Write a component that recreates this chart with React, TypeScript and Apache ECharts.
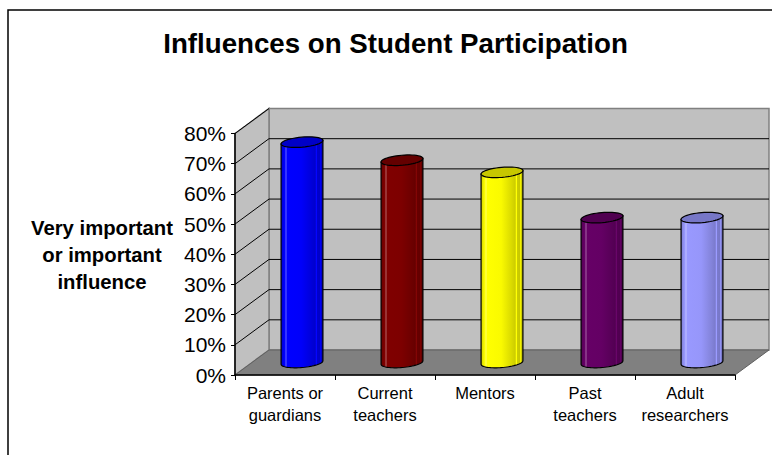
import React, { useEffect, useRef } from "react";
import * as echarts from "echarts";

const titleText = "Influences on Student Participation";
const yAxisTitle = ["Very important", "or important", "influence"];
const categories = ["Parents or\nguardians", "Current\nteachers", "Mentors", "Past\nteachers", "Adult\nresearchers"];
const values = [73, 67, 63, 48, 48];
const gridTicks = [10, 20, 30, 40, 50, 60, 70, 80];
const barColors = ["#0000ff", "#800000", "#ffff00", "#660066", "#9999ff"];

const FONT = '"Liberation Sans", Arial, sans-serif';
const DX = 34;
const DY = -25;

function shade(hex: string, f: number) {
  const n = parseInt(hex.slice(1), 16);
  const ch = (s: number) => {
    const c = (n >> s) & 255;
    const r = f <= 1 ? c * f : c + (255 - c) * (f - 1);
    return Math.round(r).toString(16).padStart(2, "0");
  };
  return "#" + ch(16) + ch(8) + ch(0);
}

function bodyFill(color: string) {
  const stops: [number, number][] = [
    [0, 0.82], [0.09, 1], [0.1, 1.2], [0.13, 1.2], [0.14, 1],
    [0.48, 0.98], [0.72, 0.86], [0.82, 0.8], [0.83, 1.02], [0.86, 1.02], [0.87, 0.8],
    [0.93, 0.78], [0.94, 0.95], [0.96, 0.95], [0.97, 0.7], [1, 0.7],
  ];
  return new echarts.graphic.LinearGradient(
    0, 0, 1, 0,
    stops.map(([offset, f]) => ({ offset, color: shade(color, f) }))
  );
}

const TILT = (-5 * Math.PI) / 180;
function ellipsePoint(cx: number, cy: number, rx: number, ry: number, t: number) {
  const x = rx * Math.cos(t);
  const y = ry * Math.sin(t);
  return [cx + x * Math.cos(TILT) - y * Math.sin(TILT), cy + x * Math.sin(TILT) + y * Math.cos(TILT)];
}
function arc(cx: number, cy: number, rx: number, ry: number, from: number, to: number, steps = 32) {
  const pts: number[][] = [];
  for (let i = 0; i <= steps; i++) {
    pts.push(ellipsePoint(cx, cy, rx, ry, from + ((to - from) * i) / steps));
  }
  return pts;
}

function renderWalls(params: any) {
  const c = params.coordSys;
  const left = c.x;
  const right = c.x + c.width;
  const top = c.y;
  const bottom = c.y + c.height;
  const edge = { stroke: "#808080", lineWidth: 1.5 };
  return {
    type: "group",
    children: [
      {
        type: "polygon",
        shape: { points: [[left + DX, top + DY], [right + DX, top + DY], [right + DX, bottom + DY], [left + DX, bottom + DY]] },
        style: { fill: "#c0c0c0", ...edge },
      },
      {
        type: "polygon",
        shape: { points: [[left, top], [left + DX, top + DY], [left + DX, bottom + DY], [left, bottom]] },
        style: { fill: "#c0c0c0", ...edge },
      },
      {
        type: "polygon",
        shape: { points: [[left, bottom], [left + DX, bottom + DY], [right + DX, bottom + DY], [right, bottom]] },
        style: { fill: "#808080", stroke: "#606060", lineWidth: 1 },
      },
    ],
  };
}

function renderGrid(params: any, api: any) {
  const c = params.coordSys;
  const y = api.coord([0, api.value(0)])[1];
  const x = c.x;
  const lines: any[] = [
    { type: "line", shape: { x1: x, y1: y, x2: x + DX, y2: y + DY }, style: { stroke: "#000", lineWidth: 1 } },
  ];
  if (api.value(0) < 80) {
    lines.push({
      type: "line",
      shape: { x1: x + DX, y1: y + DY, x2: x + c.width + DX, y2: y + DY },
      style: { stroke: "#000", lineWidth: 1 },
    });
  }
  return { type: "group", children: lines };
}

function renderBar(params: any, api: any) {
  const i = api.value(0);
  const color = barColors[i];
  const top = api.coord([i, api.value(1)]);
  const base = api.coord([i, 0]);
  const rx = api.size([1, 0])[0] * 0.21;
  const ry = 5;
  const cx = top[0] + DX / 2;
  const topY = top[1] + DY / 2;
  const baseY = base[1] + DY / 2;
  const body = [
    ...arc(cx, baseY, rx, ry, Math.PI, 0),
    ellipsePoint(cx, topY, rx, ry, 0),
    ellipsePoint(cx, topY, rx, ry, Math.PI),
  ];
  return {
    type: "group",
    children: [
      {
        type: "polygon",
        shape: { points: body },
        style: { fill: bodyFill(color), stroke: "#000", lineWidth: 1.2 },
      },
      {
        type: "polygon",
        shape: { points: arc(cx, topY, rx, ry, 0, Math.PI * 2, 48) },
        style: { fill: shade(color, 0.78), stroke: "#000", lineWidth: 1.2 },
      },
    ],
  };
}

export default function App() {
  const ref = useRef<HTMLDivElement>(null);
  useEffect(() => {
    const chart = echarts.init(ref.current!, undefined, { renderer: "svg" });
    chart.setOption({
      animation: false,
      backgroundColor: "#fff",
      textStyle: { fontFamily: FONT },
      title: {
        text: titleText,
        left: 390.5,
        top: 24,
        textAlign: "center",
        textStyle: { fontFamily: FONT, fontSize: 27.7, fontWeight: "bold", color: "#000" },
      },
      grid: { left: 235, right: 37, top: 133.5, bottom: 80 },
      xAxis: {
        type: "category",
        data: categories,
        z: 5,
        axisLine: { lineStyle: { color: "#000", width: 1.5 } },
        axisTick: { show: true, length: 5, lineStyle: { color: "#000" } },
        axisLabel: { color: "#000", fontFamily: FONT, fontSize: 16.5, lineHeight: 22, margin: 7, interval: 0 },
      },
      yAxis: {
        type: "value",
        min: 0,
        max: 80,
        interval: 10,
        z: 5,
        axisLine: { show: true, lineStyle: { color: "#000", width: 1.5 } },
        axisTick: { show: true, length: 4, lineStyle: { color: "#000" } },
        axisLabel: { color: "#000", fontFamily: FONT, fontSize: 21, margin: 9, formatter: "{value}%" },
        splitLine: { show: false },
      },
      graphic: [
        {
          type: "polyline",
          silent: true,
          shape: { points: [[8, 470], [8, 10], [790, 10]] },
          style: { stroke: "#000", lineWidth: 1.5, fill: "none" },
        },
        ...yAxisTitle.map((t, i) => ({
          type: "text",
          x: 102,
          y: 228 + i * 27,
          style: {
            text: t,
            fill: "#000",
            font: `bold 20.3px ${FONT}`,
            textAlign: "center",
            textVerticalAlign: "middle",
          },
        })),
      ],
      series: [
        { type: "custom", z: 1, clip: false, renderItem: renderWalls, data: [[0, 0]], silent: true },
        { type: "custom", z: 2, clip: false, renderItem: renderGrid, data: gridTicks.map((t) => [t]), encode: { y: 0 }, silent: true },
        { type: "custom", z: 3, clip: false, renderItem: renderBar, data: values.map((v, i) => [i, v]), encode: { x: 0, y: 1 } },
      ],
    });
    return () => chart.dispose();
  }, []);
  return <div ref={ref} style={{ position: "absolute", left: 0, top: 0, width: 772, height: 455 }} />;
}
